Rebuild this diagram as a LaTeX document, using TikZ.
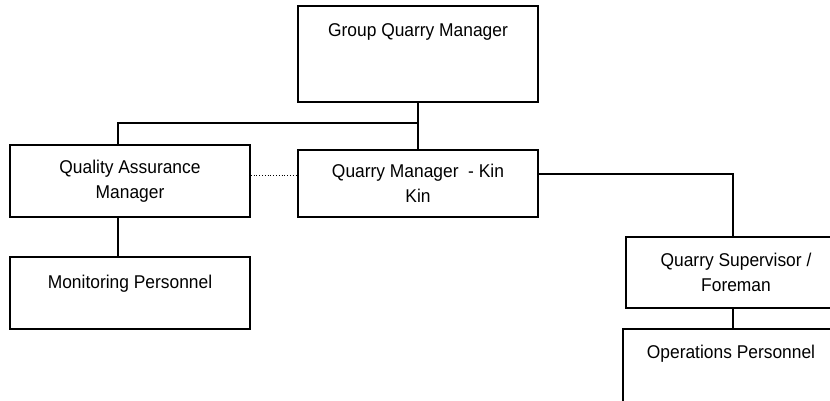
\documentclass[tikz,border=0pt]{standalone}
\usepackage{fontspec}
\setmainfont{Liberation Sans}[FakeStretch=0.94]
\usetikzlibrary{positioning}

\begin{document}
\begin{tikzpicture}[x=1pt, y=-1pt, line width=1.6pt]
            % Estilos para as caixas
            \tikzstyle{caixa}=[rectangle, draw, line width=1.6pt, align=center, minimum width=240, font=\fontsize{18.5}{25}\selectfont]
            \tikzstyle{topo}=[inner ysep=0pt, text height=30]
            
            \useasboundingbox (0,0) rectangle (830,400);
            \clip (0,0) rectangle (830,400);
            
            % Caixas
            \node[caixa, topo, text depth=66] (gqm) at (418,54) {Group Quarry Manager};
            \node[caixa, minimum height=72] (qa) at (130,181) {Quality Assurance\\Manager};
            \node[caixa, minimum height=67] (qm) at (418,183.5) {Quarry Manager ~- Kin\\Kin};
            \node[caixa, topo, text height=31, text depth=41] (mon) at (130,293) {Monitoring Personnel};
            \node[caixa, minimum width=220, minimum height=71] (qs) at (736,272.5) {Quarry Supervisor /\\Foreman};
            \node[caixa, topo, text height=29, text depth=61, minimum width=216] (ops) at (731,374) {Operations Personnel};
            
            % Ligacoes
            \coordinate (j1) at (418,123);
            \coordinate (p1) at ([yshift=6pt]qa.east);
            \draw (gqm.south) -- (qm.north);
            \draw (j1) -| ([xshift=-12pt]qa.north);
            \draw ([xshift=-12pt]qa.south) -- ([xshift=-12pt]mon.north);
            \draw[dotted, line width=0.8pt] (p1) -- (p1 -| qm.west);
            \draw ([yshift=9.5pt]qm.east) -| ([xshift=-3pt]qs.north);
            \draw ([xshift=-3pt]qs.south) -- ([xshift=-3pt]qs.south |- ops.north);
        \end{tikzpicture}
\end{document}
